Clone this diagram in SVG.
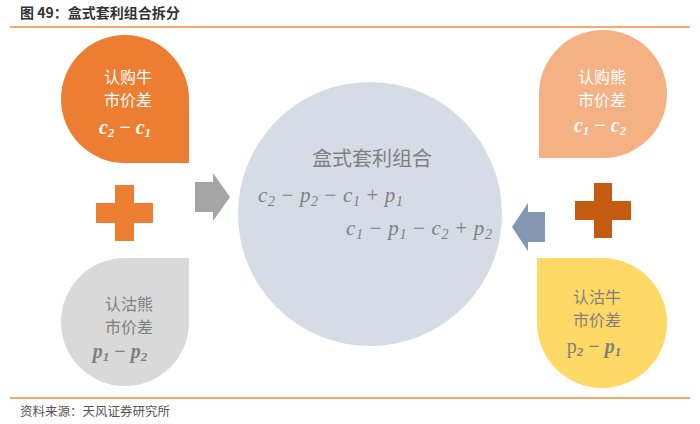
<svg xmlns="http://www.w3.org/2000/svg" width="700" height="424" viewBox="0 0 700 424">
<style>
.cjk{font-family:"Noto Sans CJK SC","Liberation Sans",sans-serif}
.lbl{font-size:16px;text-anchor:middle}
.w{fill:#ffffff}
.g{fill:#7f7f7f}
.math{font-family:"Liberation Serif","DejaVu Serif",serif;font-style:italic}
.mb{font-weight:bold;font-size:20px;text-anchor:middle}
.sub{font-size:13px}
.sub2{font-size:14px}
.rule{stroke:#F5A96B;stroke-width:2}
</style>
<rect width="700" height="424" fill="#ffffff"/>
<g id="header">
<text class="cjk" x="20" y="18" font-size="14" font-weight="bold" fill="#333333">图 49：盒式套利组合拆分</text>
<line class="rule" x1="10" y1="27" x2="690" y2="27"/>
</g>
<g id="node-bull-call">
<path d="M189,99 L189,163 L125,163 A64,64 0 0 1 61,99 A64,64 0 0 1 125,35 A64,64 0 0 1 189,99 Z" fill="#ED7D31"/>
<text class="cjk lbl w" x="128" y="83">认购牛</text>
<text class="cjk lbl w" x="128" y="106">市价差</text>
<text class="math mb w" x="125" y="134">c<tspan class="sub" dy="3">2</tspan><tspan dy="-3" font-style="normal"> − </tspan>c<tspan class="sub" dy="3">1</tspan></text>
</g>
<g id="node-bear-put">
<path d="M125,258 L189,258 L189,322 A64,64 0 0 1 125,386 A64,64 0 0 1 61,322 A64,64 0 0 1 125,258 Z" fill="#D9D9D9"/>
<text class="cjk lbl g" x="129" y="310">认沽熊</text>
<text class="cjk lbl g" x="129" y="333">市价差</text>
<text class="math mb g" x="120" y="358">p<tspan class="sub" dy="3">1</tspan><tspan dy="-3" font-style="normal"> − </tspan>p<tspan class="sub" dy="3">2</tspan></text>
</g>
<g id="node-bear-call">
<path d="M603,30 A64,64 0 0 1 667,94 A64,64 0 0 1 603,158 L539,158 L539,94 A64,64 0 0 1 603,30 Z" fill="#F4B183"/>
<text class="cjk lbl w" x="602" y="83">认购熊</text>
<text class="cjk lbl w" x="602" y="106">市价差</text>
<text class="math mb w" x="600" y="132">c<tspan class="sub" dy="3">1</tspan><tspan dy="-3" font-style="normal"> − </tspan>c<tspan class="sub" dy="3">2</tspan></text>
</g>
<g id="node-bull-put">
<path d="M537,258 L602,258 A65,65 0 0 1 667,323 A65,65 0 0 1 602,388 A65,65 0 0 1 537,323 Z" fill="#FFD966"/>
<text class="cjk lbl g" x="597" y="303">认沽牛</text>
<text class="cjk lbl g" x="597" y="326">市价差</text>
<text class="math mb g" x="594" y="353"><tspan font-style="normal" font-weight="normal">p</tspan><tspan class="sub" dy="3">2</tspan><tspan dy="-3" font-style="normal"> − </tspan>p<tspan class="sub" dy="3">1</tspan></text>
</g>
<g id="node-box">
<circle cx="370" cy="214" r="132" fill="#D6DCE5"/>
<text class="cjk g" x="372" y="166" font-size="20" text-anchor="middle">盒式套利组合</text>
<text class="math g" x="258" y="202" font-size="21" textLength="145" lengthAdjust="spacing">c<tspan class="sub2" dy="4">2</tspan><tspan dy="-4" font-style="normal"> − </tspan>p<tspan class="sub2" dy="4">2</tspan><tspan dy="-4" font-style="normal"> − </tspan>c<tspan class="sub2" dy="4">1</tspan><tspan dy="-4" font-style="normal"> + </tspan>p<tspan class="sub2" dy="4">1</tspan></text>
<text class="math g" x="346" y="235" font-size="21" textLength="146" lengthAdjust="spacing">c<tspan class="sub2" dy="4">1</tspan><tspan dy="-4" font-style="normal"> − </tspan>p<tspan class="sub2" dy="4">1</tspan><tspan dy="-4" font-style="normal"> − </tspan>c<tspan class="sub2" dy="4">2</tspan><tspan dy="-4" font-style="normal"> + </tspan>p<tspan class="sub2" dy="4">2</tspan></text>
</g>
<g id="plus-left">
<rect x="96" y="203" width="57" height="20" fill="#ED7D31"/>
<rect x="115" y="185" width="19" height="56" fill="#ED7D31"/>
</g>
<g id="plus-right">
<rect x="575" y="201" width="56" height="19" fill="#C55A11"/>
<rect x="594" y="183" width="18" height="55" fill="#C55A11"/>
</g>
<g id="connectors">
<polygon points="195,182 213,182 213,173 230,197 213,221 213,212 195,212" fill="#A5A5A5"/>
<polygon points="512,227 528,203 528,212 545,212 545,242 528,242 528,251" fill="#8497B0"/>
</g>
<g id="footer">
<line class="rule" x1="10" y1="398" x2="690" y2="398"/>
<text class="cjk" x="20" y="416" font-size="12.5" fill="#555555">资料来源：天风证券研究所</text>
</g>
</svg>
